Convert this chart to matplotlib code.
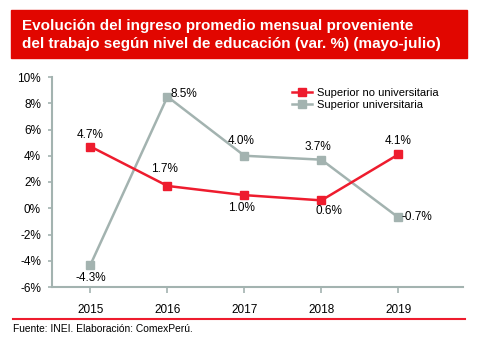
import numpy as np
import matplotlib.pyplot as plt
from matplotlib.patches import Rectangle
from matplotlib.lines import Line2D

plt.rcParams['font.family'] = ['Liberation Sans', 'DejaVu Sans']

years = ['2015', '2016', '2017', '2018', '2019']
no_univ = [4.7, 1.7, 1.0, 0.6, 4.1]
univ = [-4.3, 8.5, 4.0, 3.7, -0.7]
yticks = [-6, -4, -2, 0, 2, 4, 6, 8, 10]

RED = '#ee1c2e'
GRAY = '#a3b3b0'
HEAD = '#e10600'

fig = plt.figure(figsize=(4.78, 3.43), dpi=100)
W, H = 478, 343

# header band
fig.patches.append(Rectangle((11 / W, 1 - 58 / H), (467 - 11) / W, 48 / H,
                             transform=fig.transFigure, color=HEAD, zorder=0))
fig.text(22 / W, 1 - 26 / H, 'Evolución del ingreso promedio mensual proveniente',
         color='white', fontsize=11, fontweight='bold', va='center')
fig.text(22 / W, 1 - 44 / H, 'del trabajo según nivel de educación (var. %) (mayo-julio)',
         color='white', fontsize=11, fontweight='bold', va='center')

ax = fig.add_axes([52 / W, 56 / H, (463 - 52) / W, (287 - 77) / H])
x = np.arange(len(years))
ax.plot(x, no_univ, color=RED, lw=1.8, marker='s', ms=6, zorder=3,
        label='Superior no universitaria')
ax.plot(x, univ, color=GRAY, lw=1.8, marker='s', ms=6, zorder=2,
        label='Superior universitaria')

ax.set_xlim(-0.5, 4.84)
ax.set_ylim(-6, 10)
ax.set_xticks(x)
ax.set_xticklabels(years)
ax.set_yticks(yticks)
ax.set_yticklabels([f'{v}%' for v in yticks])
for s in ['top', 'right']:
    ax.spines[s].set_visible(False)
for s in ['left', 'bottom']:
    ax.spines[s].set_color(GRAY)
    ax.spines[s].set_linewidth(1.5)
ax.tick_params(axis='both', colors=GRAY, labelcolor='black', labelsize=8.5, width=1.2)
ax.tick_params(axis='x', length=4, pad=8)
ax.tick_params(axis='y', length=3, pad=5)

# value labels: (dx, dy) offsets in pixels
red_off = [(0, 12), (-3, 17), (-3, -13), (8, -11), (0, 13)]
gray_off = [(0, -13), (16, 3), (-3, 15), (-3, 13), (19, 0)]
for vals, offs in [(no_univ, red_off), (univ, gray_off)]:
    for xi, v, (dx, dy) in zip(x, vals, offs):
        ax.annotate(f'{v:.1f}%', (xi, v), xytext=(dx * 0.72, dy * 0.72),
                    textcoords='offset points', ha='center', va='center', fontsize=8.5)

ax.legend(loc='upper left', bbox_to_anchor=(0.56, 0.995), frameon=False, fontsize=8,
          handlelength=1.8, handletextpad=0.4, labelspacing=0.2)

# footer
fig.add_artist(Line2D([13 / W, 465 / W], [1 - 319 / H] * 2, color=RED, lw=1.5,
                      transform=fig.transFigure))
fig.text(13 / W, 1 - 329 / H, 'Fuente: INEI. Elaboración: ComexPerú.', fontsize=7.4,
         va='center')

fig.savefig('out.png', dpi=100)
